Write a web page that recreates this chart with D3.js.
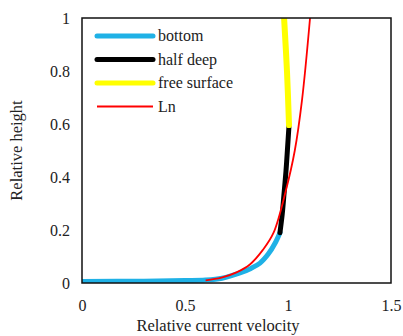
<!DOCTYPE html>
<html>
<head>
<meta charset="utf-8">
<script src="https://cdn.jsdelivr.net/npm/d3@7"></script>
</head>
<body style="margin:0; background:#fff">
<div id="chart"></div>
<script>
// data: [velocity, height]
const bottom = [[0, 0.006], [0.3, 0.007], [0.5, 0.009], [0.6, 0.011], [0.68, 0.018],
    [0.767, 0.038], [0.82, 0.055], [0.864, 0.075], [0.905, 0.11], [0.937, 0.15], [0.961, 0.19]];
const halfDeep = [[0.961, 0.19], [0.972, 0.26], [0.98, 0.33], [0.99, 0.42], [0.997, 0.5], [1.005, 0.596]];
const freeSurface = [[1.005, 0.596], [0.995, 0.8], [0.981, 1.0]];
const lnFit = [[0.6, 0.01], [0.677, 0.02], [0.75, 0.04], [0.815, 0.07], [0.878, 0.125],
    [0.93, 0.19], [0.99, 0.35], [1.033, 0.5], [1.068, 0.69], [1.107, 1.0]];

const xTicks = [0, 0.5, 1, 1.5];
const yTicks = [0, 0.2, 0.4, 0.6, 0.8, 1];

const series = [
    {name: "bottom", data: bottom, color: "#1fb1e6", w: 5},
    {name: "half deep", data: halfDeep, color: "#000000", w: 5},
    {name: "free surface", data: freeSurface, color: "#ffff00", w: 6},
    {name: "Ln", data: lnFit, color: "#ff0000", w: 1.8}
];

const FONT = "'Liberation Serif'";
const W = 403, H = 336;
const margin = {top: 18, right: 12, bottom: 53, left: 82};
const width = W - margin.left - margin.right,
    height = H - margin.top - margin.bottom;

const svg = d3.select("#chart")
    .append("svg")
    .attr("width", W)
    .attr("height", H);

const g = svg.append("g")
    .attr("transform", `translate(${margin.left}, ${margin.top})`);

const x = d3.scaleLinear().domain([0, 1.5]).range([0, width]);
const y = d3.scaleLinear().domain([0, 1]).range([height, 0]);

// clip the curves to the plot box
svg.append("defs").append("clipPath").attr("id", "clip")
    .append("rect").attr("width", width).attr("height", height);

// axes (no tick marks, only labels)
const xAxis = g.append("g")
    .attr("transform", `translate(0, ${height})`)
    .call(d3.axisBottom(x).tickValues(xTicks).tickSize(0).tickPadding(17).tickFormat(d3.format("")));
const yAxis = g.append("g")
    .call(d3.axisLeft(y).tickValues(yTicks).tickSize(0).tickPadding(12).tickFormat(d3.format("")));
[xAxis, yAxis].forEach(a => {
    a.select(".domain").remove();
    a.selectAll("text")
        .style("font-family", FONT)
        .style("font-size", "16px")
        .attr("fill", "#222");
});

const line = d3.line()
    .x(d => x(d[0]))
    .y(d => y(d[1]))
    .curve(d3.curveCatmullRom);

g.append("g").attr("clip-path", "url(#clip)")
    .selectAll("path")
    .data(series)
    .join("path")
    .attr("d", d => line(d.data))
    .attr("fill", "none")
    .attr("stroke", d => d.color)
    .attr("stroke-width", d => d.w)
    .attr("stroke-linecap", d => d.name === "Ln" ? "butt" : "round");

// frame
g.append("rect")
    .attr("width", width)
    .attr("height", height)
    .attr("fill", "none")
    .attr("stroke", "#111")
    .attr("stroke-width", 1.5);

// legend
const legend = g.append("g").attr("transform", "translate(15, 18)");
const item = legend.selectAll("g")
    .data(series)
    .join("g")
    .attr("transform", (d, i) => `translate(0, ${i * 23.5})`);
item.append("line")
    .attr("x1", 0).attr("x2", 56)
    .attr("stroke", d => d.color)
    .attr("stroke-width", d => d.name === "Ln" ? 1.8 : 5)
    .attr("stroke-linecap", d => d.name === "Ln" ? "butt" : "round");
item.append("text")
    .attr("x", 61)
    .attr("dy", "0.33em")
    .style("font-family", FONT)
    .style("font-size", "16px")
    .attr("fill", "#222")
    .text(d => d.name);

// axis titles
svg.append("text")
    .attr("x", margin.left + x(0.66))
    .attr("y", 331)
    .attr("text-anchor", "middle")
    .style("font-family", FONT)
    .style("font-size", "16.5px")
    .attr("fill", "#222")
    .text("Relative current velocity");
svg.append("text")
    .attr("transform", `translate(22, ${margin.top + height / 2}) rotate(-90)`)
    .attr("text-anchor", "middle")
    .style("font-family", FONT)
    .style("font-size", "16.5px")
    .attr("fill", "#222")
    .text("Relative height");
</script>
</body>
</html>
